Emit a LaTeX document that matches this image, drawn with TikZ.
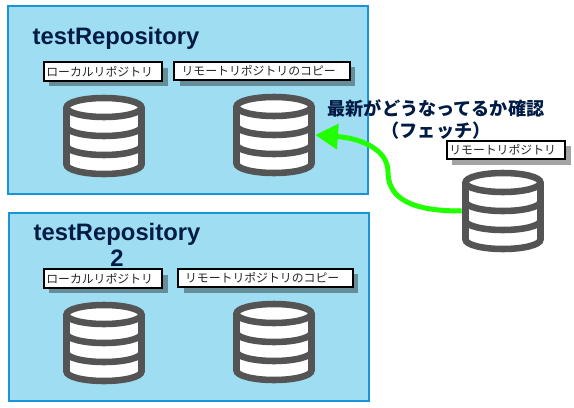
\documentclass[tikz,border=0pt]{standalone}
\usepackage{fontspec}
\setmainfont{Liberation Sans}
\newfontfamily\jpfont{Noto Sans CJK JP}
\usetikzlibrary{arrows.meta}
\definecolor{boxfill}{HTML}{9FDEF2}
\definecolor{boxline}{HTML}{1A94D8}
\definecolor{navy}{HTML}{001B44}
\definecolor{dbgray}{HTML}{545454}
\definecolor{arrowgreen}{HTML}{22FF00}
\tikzset{
  x=0.75pt,y=-0.75pt,
  repo/.style={draw=boxline,fill=boxfill,line width=1.5pt,inner sep=0pt,outer sep=0pt,anchor=north west},
  titletext/.style={font=\bfseries\fontsize{17.85}{19.5}\selectfont,text=navy,align=center,inner sep=0pt},
  notetext/.style={font=\jpfont\bfseries\fontsize{13.6}{16.5}\selectfont,text=navy,align=center,inner sep=0pt},
  lbl/.style={draw=black,fill=white,line width=1.5pt,inner sep=0pt,outer sep=0pt,minimum height=14pt,
    font=\jpfont\fontsize{8.9}{11}\selectfont,text=black!85,execute at end node=\hspace*{5pt},
    preaction={draw=none,fill=black,fill opacity=.36,transform canvas={shift={(4pt,-4pt)}}}},
  dbspot/.style={inner sep=0pt,minimum width=61.5pt,minimum height=61.5pt},
  pics/dbicon/.style={code={
    \begin{scope}[draw=dbgray,line width=4.9pt]
      \path[fill=white] (-37.5,-28.5) -- (-37.5,28.5) arc[start angle=180,end angle=0,x radius=37.5,y radius=9.5] -- (37.5,-28.5) -- cycle;
      \draw[fill=white] (0,-28.5) ellipse[x radius=37.5,y radius=9.5];
      \draw (-37.5,-28.5) -- (-37.5,28.5) arc[start angle=180,end angle=0,x radius=37.5,y radius=9.5] -- (37.5,-28.5);
      \draw (-37.5,-9.5) arc[start angle=180,end angle=0,x radius=37.5,y radius=9.5];
      \draw (-37.5,9.5) arc[start angle=180,end angle=0,x radius=37.5,y radius=9.5];
    \end{scope}
  }},
  flow/.style={draw=arrowgreen,line width=3.75pt,-{Triangle[length=17pt,width=18.5pt]}}
}
\begin{document}
\begin{tikzpicture}
\useasboundingbox (0,0) rectangle (574,407);
\node[repo,minimum width=270pt,minimum height=141pt] (repoA) at (8,6) {};
\node[repo,minimum width=270pt,minimum height=141pt] (repoB) at (9,213) {};
\node[titletext] (titleA) at (116,38) {testRepository};
\node[titletext] (titleB) at (117,245) {testRepository\\2};
\node[lbl,minimum width=89pt] (lblA) at (103,71.5) {ローカルリポジトリ};
\node[lbl,minimum width=131.5pt] (lblB) at (262,71) {リモートリポジトリのコピー};
\node[lbl,minimum width=89pt] (lblC) at (103,278.5) {ローカルリポジトリ};
\node[lbl,minimum width=131pt] (lblD) at (265.5,278) {リモートリポジトリのコピー};
\node[lbl,minimum width=89pt] (lblE) at (506,150) {リモートリポジトリ};
\node[dbspot] (dbA) at (104,136) {}; \pic at (dbA) {dbicon};
\node[dbspot] (dbB) at (274,135) {}; \pic at (dbB) {dbicon};
\node[dbspot] (dbC) at (503,211) {}; \pic at (dbC) {dbicon};
\node[dbspot] (dbD) at (104,343) {}; \pic at (dbD) {dbicon};
\node[dbspot] (dbE) at (274,342) {}; \pic at (dbE) {dbicon};
\node[notetext] (note) at (436,119) {最新がどうなってるか確認\\（フェッチ）};
\draw[flow] (dbC.west) .. controls (425,211) and (388,205) .. (388,172) .. controls (388,148) and (358,138) .. (dbB.east);
\end{tikzpicture}
\end{document}
